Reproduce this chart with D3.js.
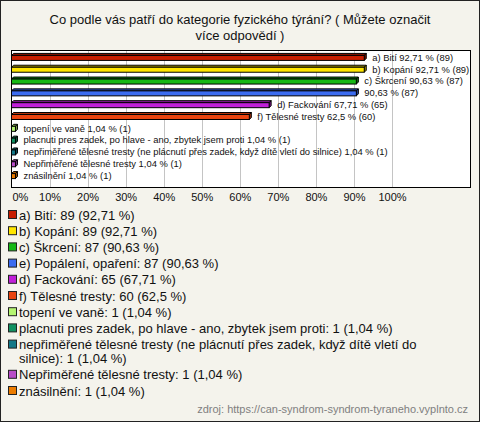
<!DOCTYPE html>
<html><head><meta charset="utf-8">
<script src="https://cdn.jsdelivr.net/npm/d3@7"></script>
<style>
html,body{margin:0;padding:0;background:#f4f3ec;}
svg{display:block;font-family:"Liberation Sans",Arial,sans-serif;}
</style></head>
<body>
<svg id="c" width="480" height="422"></svg>
<script>
const titleLines = ["Co podle vás patří do kategorie fyzického týrání? ( Můžete označit", "více odpovědí )"];
const categories = ["a) Bití","b) Kopání","c) Škrcení","e) Popálení, opaření","d) Fackování","f) Tělesné tresty","topení ve vaně","placnuti pres zadek, po hlave - ano, zbytek jsem proti","nepřiměřené tělesné tresty (ne plácnutí přes zadek, když dítě vletí do silnice)","Nepřiměřené tělesné tresty","znásilnění"];
const counts = [89,89,87,87,65,60,1,1,1,1,1];
const percents = [92.71,92.71,90.63,90.63,67.71,62.5,1.04,1.04,1.04,1.04,1.04];
const nameOnBar = [true,true,true,false,true,true,true,true,true,true,true];
const colors = ["#c81e00","#ffe600","#16b816","#3c6cf0","#c020d8","#e84410","#b4f470","#0f9060","#137888","#b84cc8","#ec7c00"];
const xTicks = [0,10,20,30,40,50,60,70,80,90,100];
const source = "zdroj: https://can-syndrom-syndrom-tyraneho.vyplnto.cz";

const fmt = v => String(v).replace(".", ",");
const svg = d3.select("#c");
svg.append("rect").attr("x",0.5).attr("y",0.5).attr("width",479).attr("height",421)
  .attr("fill","#f4f3ec").attr("stroke","#222");

// title
svg.append("g").selectAll("text").data(titleLines).join("text")
  .attr("x",240).attr("y",(d,i)=>24+i*16).attr("text-anchor","middle")
  .attr("font-size",13).attr("fill","#111").text(d=>d);

// plot
const box = {x0:11, x1:470, y0:50, y1:187};
svg.append("rect").attr("x",box.x0+0.5).attr("y",box.y0+0.5)
  .attr("width",box.x1-box.x0).attr("height",box.y1-box.y0)
  .attr("fill","#fff").attr("stroke","#000");

const x = d3.scaleLinear().domain([0,100]).range([11.5,392]);
const y = d3.scaleBand().domain(categories).range([51,181]).padding(0);

svg.append("g").selectAll("line").data(xTicks.filter(t=>t>0)).join("line")
  .attr("x1",d=>Math.round(x(d))+0.5).attr("x2",d=>Math.round(x(d))+0.5)
  .attr("y1",box.y0+1).attr("y2",box.y1)
  .attr("stroke","#c4c4c4");

const axis = d3.axisBottom(x).tickValues(xTicks).tickFormat(d=>d+"%").tickSize(0);
const ag = svg.append("g").attr("transform",`translate(0,${box.y1+3})`).call(axis);
ag.select(".domain").remove();
ag.selectAll("text").attr("font-size",11).attr("fill","#111")
  .attr("font-family","'Liberation Sans',Arial,sans-serif")
  .attr("text-anchor",d=>d===0?"start":"middle")
  .attr("dx",d=>d===0?-x(0)+12:0);

const dep = 2, h = 5;
const bars = svg.append("g");
categories.forEach((c,i)=>{
  const cy = y(c) + y.bandwidth()/2;
  const x0 = x(0), x1 = x(percents[i]);
  const top = cy - h/2 + 1, bot = cy + h/2 + 1;
  const col = d3.color(colors[i]);
  const g = bars.append("g").attr("stroke","#000").attr("stroke-width",1).attr("stroke-linejoin","miter");
  g.append("path").attr("fill",col.darker(0.8))
    .attr("d",`M${x0},${top}L${x0+dep},${top-dep}L${x1+dep},${top-dep}L${x1},${top}Z`);
  g.append("path").attr("fill",col.darker(1.2))
    .attr("d",`M${x1},${top}L${x1+dep},${top-dep}L${x1+dep},${bot-dep}L${x1},${bot}Z`);
  g.append("rect").attr("x",x0).attr("y",top).attr("width",x1-x0).attr("height",bot-top).attr("fill",col);
  bars.append("text").attr("x",x1+dep+6).attr("y",cy+0.5).attr("dy","0.35em")
    .attr("font-size",9.4).attr("fill","#111")
    .text((nameOnBar[i]?c+" ":"")+fmt(percents[i])+" % ("+counts[i]+")");
});

// legend
const leg = svg.append("g");
let ly = 215;
categories.forEach((c,i)=>{
  const full = c+": "+counts[i]+" ("+fmt(percents[i])+" %)";
  leg.append("rect").attr("x",8.5).attr("y",ly-4.5).attr("width",8).attr("height",8)
    .attr("fill",colors[i]).attr("stroke","#222");
  const t = leg.append("text").attr("x",19).attr("y",ly).attr("dy","0.35em")
    .attr("font-size",13).attr("fill","#111");
  const words = full.split(" ");
  let line = [], tsp = t.append("tspan").attr("x",19), lines = 1;
  words.forEach(w=>{
    line.push(w); tsp.text(line.join(" "));
    if (tsp.node().getComputedTextLength() > 438 && line.length>1) {
      line.pop(); tsp.text(line.join(" "));
      line=[w]; tsp = t.append("tspan").attr("x",19).attr("dy",14).text(w); lines++;
    }
  });
  ly += 16.2 + (lines-1)*14;
});

svg.append("text").attr("x",468).attr("y",409).attr("dy","0.35em").attr("text-anchor","end")
  .attr("font-size",11).attr("fill","#808080").text(source);
</script>
</body></html>
